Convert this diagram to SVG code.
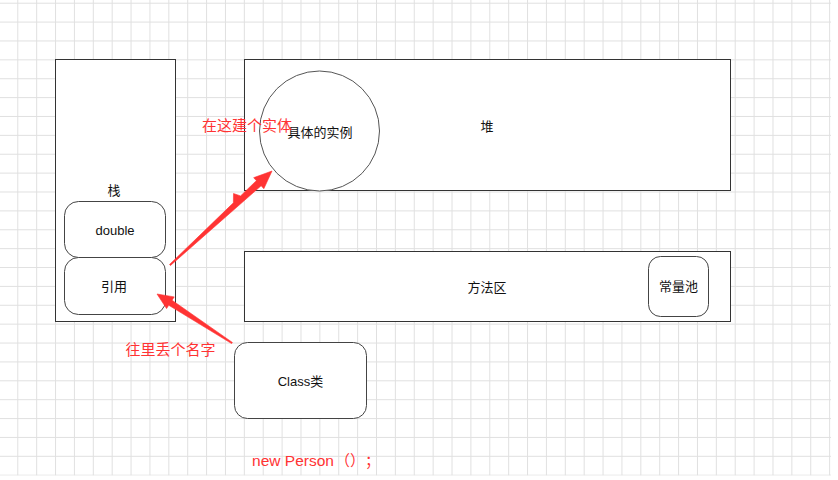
<svg xmlns="http://www.w3.org/2000/svg" width="838" height="480" viewBox="0 0 838 480">
<defs>
<pattern id="grid" patternUnits="userSpaceOnUse" x="-1.6" y="2.7" width="18.88" height="18.88">
<path d="M0.5 0 V18.88 M0 0.5 H18.88" fill="none" stroke="#e0e0e0" stroke-width="1"/>
</pattern>
<style>
.box{fill:#fff;stroke:#333;stroke-width:1}
.rbox{fill:#fff;stroke:#444;stroke-width:1}
.t{font-family:"Liberation Sans","Noto Sans CJK SC",sans-serif;font-size:13px;fill:#111;text-anchor:middle;dominant-baseline:central}
.r{font-family:"Liberation Sans","Noto Sans CJK SC",sans-serif;font-size:15px;fill:#ff3333}
.cjk{font-family:"Noto Sans CJK SC",sans-serif;text-spacing-trim:space-all;font-feature-settings:"halt" 0,"chws" 0}
.arrow{fill:#ff3333;stroke:#ff3333;stroke-width:0.6;stroke-linejoin:round}
</style>
</defs>
<rect x="0" y="0" width="838" height="480" fill="#fff"/>
<rect x="0" y="0" width="831" height="475.5" fill="url(#grid)"/>

<g id="stack">
<rect class="box" x="55.5" y="59.5" width="120" height="262"/>
<text class="t" x="114" y="190">栈</text>
</g>
<g id="double">
<rect class="rbox" x="64.5" y="201.5" width="101" height="56" rx="14"/>
<text class="t" x="115" y="230">double</text>
</g>
<g id="ref">
<rect class="rbox" x="64.5" y="257.5" width="101" height="57" rx="14"/>
<text class="t" x="114" y="286">引用</text>
</g>
<g id="heap">
<rect class="box" x="244.5" y="59.5" width="486" height="131"/>
<text class="t" x="487" y="126">堆</text>
</g>
<g id="instance">
<circle cx="319.5" cy="131" r="60" fill="#fff" stroke="#555" stroke-width="1"/>
<text class="t" x="320" y="132">具体的实例</text>
</g>
<g id="method">
<rect class="box" x="244.5" y="251.5" width="486" height="70"/>
<text class="t" x="487" y="287">方法区</text>
</g>
<g id="pool">
<rect class="rbox" x="648.5" y="256.5" width="60" height="60" rx="12"/>
<text class="t" x="678.5" y="286">常量池</text>
</g>
<g id="class">
<rect class="rbox" x="234.5" y="342.5" width="132" height="76" rx="13"/>
<text class="t" x="300.5" y="381">Class类</text>
</g>

<g id="connectors">
<polygon class="arrow" points="169.53,264.49 233.36,202.86 233.5,193.5 240.55,195.91 256.39,180.63 253.68,177.68 272,171 263.84,188.72 261.13,185.77 170.47,265.51"/>
<polygon class="arrow" points="232.38,342.41 172.04,300.24 174.23,296.89 157,294 166.57,308.61 168.76,305.26 231.62,343.59"/>
</g>

<text class="r" x="202" y="130.5">在这建个实体</text>
<text class="r" x="125.5" y="354.5">往里丢个名字</text>
<text class="r" x="252" y="465.5" textLength="82" lengthAdjust="spacingAndGlyphs">new Person</text>
<text class="r cjk" x="335 350 365" y="465.5">（）；</text>
</svg>
